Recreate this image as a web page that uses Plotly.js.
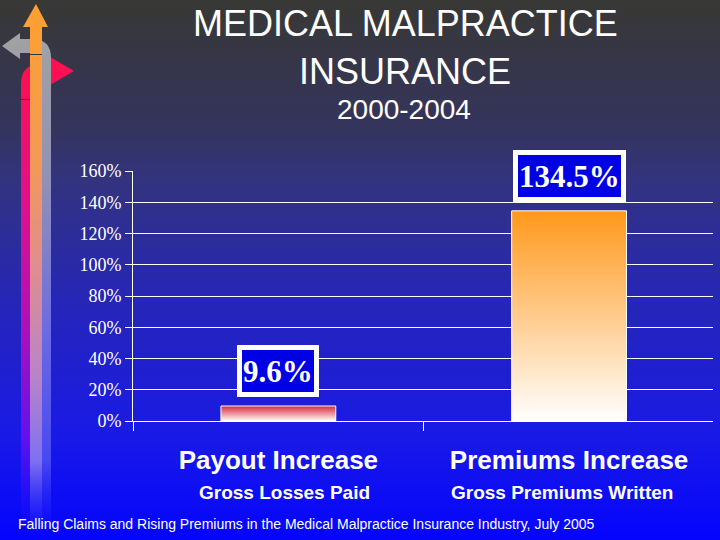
<!DOCTYPE html>
<html>
<head>
<meta charset="utf-8">
<script src="https://cdn.plot.ly/plotly-3.0.1.min.js"></script>
<style>
    html, body {
        margin: 0;
        padding: 0;
        width: 720px;
        height: 540px;
        overflow: hidden;
        background: linear-gradient(to bottom, #383835 0%, #34345e 24%, #33337e 33%, #2626b6 55%, #1a1ae6 80%, #0404ff 100%);
    }
    #deco { position: absolute; left: 0; top: 0; z-index: 0; }
    #chart { position: absolute; left: 0; top: 0; width: 720px; height: 540px; z-index: 1; }
</style>
</head>
<body>
<!-- decorative arrows, top-left corner of the slide -->
<svg id="deco" width="80" height="540" xmlns="http://www.w3.org/2000/svg">
    <defs>
        <linearGradient id="redG" gradientUnits="userSpaceOnUse" x1="0" y1="64" x2="0" y2="535">
            <stop offset="0" stop-color="#ff1050"/>
            <stop offset="0.3" stop-color="#e0108c"/>
            <stop offset="0.55" stop-color="#b010b8"/>
            <stop offset="0.8" stop-color="#6010f0"/>
            <stop offset="1" stop-color="#2010ff" stop-opacity="0"/>
        </linearGradient>
        <linearGradient id="orangeG" gradientUnits="userSpaceOnUse" x1="0" y1="5" x2="0" y2="535">
            <stop offset="0" stop-color="#ffa030"/>
            <stop offset="0.3" stop-color="#f49858"/>
            <stop offset="0.5" stop-color="#e08c90"/>
            <stop offset="0.7" stop-color="#b884c8"/>
            <stop offset="0.86" stop-color="#8070f0"/>
            <stop offset="1" stop-color="#4040ff" stop-opacity="0"/>
        </linearGradient>
        <linearGradient id="grayG" gradientUnits="userSpaceOnUse" x1="0" y1="33" x2="0" y2="535">
            <stop offset="0" stop-color="#a2a2a2"/>
            <stop offset="0.3" stop-color="#9090b8"/>
            <stop offset="0.6" stop-color="#6a6ae4"/>
            <stop offset="0.85" stop-color="#4848f4"/>
            <stop offset="1" stop-color="#2020ff" stop-opacity="0"/>
        </linearGradient>
    </defs>
    <path d="M21,535 L21,84 Q21,64 41,64 L50,64 L50,57 L74,71 L50,85 L50,78 L41,78 Q30,78 30,89 L30,535 Z" fill="url(#redG)"/>
    <path d="M51,535 L51,58 Q51,39 32,39 L20,39 L20,33 L2,46 L20,59 L20,53 L32,53 Q42,53 42,62 L42,535 Z" fill="url(#grayG)"/>
    <path d="M30,535 L30,27 L23,27 L36,4 L48,27 L42,27 L42,535 Z" fill="url(#orangeG)"/>
    <rect x="30" y="54" width="12" height="1" fill="#333333"/>
    <rect x="21" y="99" width="9" height="1" fill="#333344"/>
</svg>
<div id="chart"></div>
<script>
// --- data ---
const categories = ["Payout Increase", "Premiums Increase"];
const subLabels = ["Gross Losses Paid", "Gross Premiums Written"];
const values = [9.6, 134.5];
const valueLabels = ["9.6%", "134.5%"];
const barColors = ["#d8283a", "#ff981a"];

const titleLines = ["MEDICAL MALPRACTICE", "INSURANCE"];
const subtitle = "2000-2004";
const footer = "Falling Claims and Rising Premiums in the Medical Malpractice Insurance Industry, July 2005";

// --- layout helpers (pixel -> paper) ---
const W = 720, H = 540;
const M = { l: 133, r: 7, t: 171, b: 119 };
const px = (x) => (x - M.l) / (W - M.l - M.r);
const py = (y) => (H - M.b - y) / (H - M.t - M.b);

const SANS = '"Liberation Sans", Arial, sans-serif';
const SERIF = '"Liberation Serif", "Times New Roman", serif';

const trace = {
    type: "bar",
    x: categories,
    y: values,
    marker: { color: barColors, line: { color: "#ffffff", width: 1 } },
    hoverinfo: "skip",
};

const annotations = [];

// slide title (y given as the middle of each line)
function slideText(text, x, y, size, extra) {
    return Object.assign({
        text: text, xref: "paper", yref: "paper", x: px(x), y: py(y),
        xanchor: "center", yanchor: "middle", showarrow: false,
        font: { family: SANS, size: size, color: "#ffffff" },
    }, extra || {});
}
annotations.push(slideText(titleLines[0], 405, 24, 36));
annotations.push(slideText(titleLines[1], 405, 71, 36));
annotations.push(slideText(subtitle, 404, 109, 28));

// value boxes above bars
categories.forEach((c, i) => {
    annotations.push({
        text: "<b>" + valueLabels[i] + "</b>",
        xref: "x", yref: "y", x: c, y: values[i],
        yanchor: "bottom", yshift: 9, showarrow: false,
        height: 40,
        bgcolor: "#0000e4", bordercolor: "#ffffff", borderwidth: 5, borderpad: 1,
        font: { family: SERIF, size: 31, color: "#ffffff" },
    });
});

// second line under each category
const subShift = [6, -7];
categories.forEach((c, i) => {
    annotations.push({
        text: "<b>" + subLabels[i] + "</b>",
        xref: "x", yref: "paper", x: c, y: py(492), xshift: subShift[i],
        xanchor: "center", yanchor: "middle", showarrow: false,
        font: { family: SANS, size: 19, color: "#ffffff" },
    });
});

// source line
annotations.push(slideText(footer, 16, 524, 14, { xanchor: "left" }));

const layout = {
    width: W,
    height: H,
    margin: M,
    paper_bgcolor: "rgba(0,0,0,0)",
    plot_bgcolor: "rgba(0,0,0,0)",
    showlegend: false,
    bargap: 0.605,
    xaxis: {
        type: "category",
        range: [-0.5, 1.495],
        tickson: "boundaries",
        ticks: "outside",
        ticklen: 9,
        tickcolor: "#ffffff",
        showline: true,
        linecolor: "#ffffff",
        showgrid: false,
        ticklabelstandoff: 16,
        tickfont: { family: SANS, size: 26, color: "#ffffff", weight: "bold" },
    },
    yaxis: {
        range: [0, 160],
        dtick: 20,
        ticksuffix: "%",
        ticks: "outside",
        ticklen: 7,
        tickcolor: "#ffffff",
        showline: true,
        linecolor: "#ffffff",
        gridcolor: "#ffffff",
        gridwidth: 1,
        zeroline: false,
        tickfont: { family: SERIF, size: 18, color: "#ffffff" },
    },
    annotations: annotations,
};

const config = { displayModeBar: false, staticPlot: true };

Plotly.newPlot("chart", [trace], layout, config).then(function (gd) {
    // fill the bars with a colour-to-white vertical gradient
    const NS = "http://www.w3.org/2000/svg";
    const defs = gd.querySelector("svg.main-svg defs");
    barColors.forEach((c, i) => {
        const g = document.createElementNS(NS, "linearGradient");
        g.setAttribute("id", "barGrad" + i);
        g.setAttribute("x1", "0"); g.setAttribute("y1", "0");
        g.setAttribute("x2", "0"); g.setAttribute("y2", "1");
        [[0, c], [1, "#ffffff"]].forEach(([off, col]) => {
            const s = document.createElementNS(NS, "stop");
            s.setAttribute("offset", off);
            s.setAttribute("stop-color", col);
            g.appendChild(s);
        });
        defs.appendChild(g);
    });
    gd.querySelectorAll(".barlayer .point path").forEach((p, i) => {
        p.style.fill = "url(#barGrad" + i + ")";
    });
});
</script>
</body>
</html>
